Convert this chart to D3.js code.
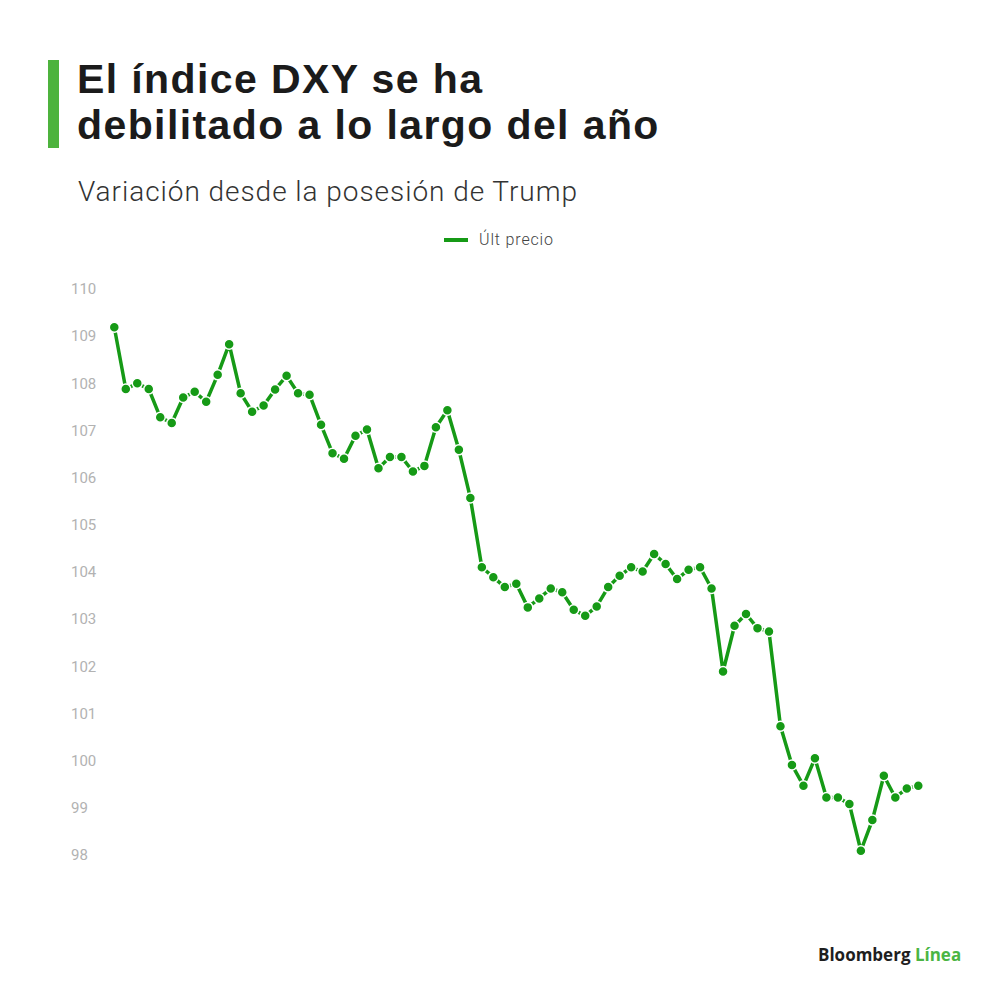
<!DOCTYPE html>
<html>
<head>
<meta charset="utf-8">
<style>
  body { margin: 0; background: #fff; }
  svg { display: block; }
</style>
</head>
<body>
<div id="chart"></div>
<script src="https://cdn.jsdelivr.net/npm/d3@7"></script>
<script>
// Data (DXY, "Últ precio"), one value per point
var values = [
  109.19, 107.88, 108.00, 107.88, 107.28, 107.16, 107.70, 107.82, 107.61, 108.18,
  108.83, 107.79, 107.40, 107.53, 107.87, 108.16, 107.79, 107.76, 107.12, 106.52,
  106.40, 106.89, 107.02, 106.20, 106.44, 106.44, 106.13, 106.25, 107.07, 107.43,
  106.59, 105.57, 104.10, 103.89, 103.68, 103.75, 103.25, 103.44, 103.65, 103.57,
  103.20, 103.07, 103.27, 103.68, 103.92, 104.10, 104.01, 104.38, 104.17, 103.85,
  104.05, 104.10, 103.65, 101.89, 102.86, 103.11, 102.81, 102.74, 100.73, 99.91,
  99.47, 100.05, 99.22, 99.22, 99.08, 98.09, 98.74, 99.68, 99.22, 99.41, 99.47
];
var yTicks = [98, 99, 100, 101, 102, 103, 104, 105, 106, 107, 108, 109, 110];
var titleLines = ["El índice DXY se ha", "debilitado a lo largo del año"];
var subtitle = "Variación desde la posesión de Trump";
var seriesName = "Últ precio";

var width = 1000, height = 1000;
var lineGreen = "#169a16";

var svg = d3.select("#chart").append("svg")
  .attr("width", width).attr("height", height);

// Header: green bar + title (one text, two lines) + subtitle
svg.append("rect")
  .attr("x", 48).attr("y", 60).attr("width", 11).attr("height", 88)
  .attr("fill", "#4db33d");

svg.append("text")
  .attr("y", 93)
  .style("font-family", "'Liberation Sans', Arial, sans-serif")
  .style("font-weight", "bold")
  .style("font-size", "41px")
  .style("letter-spacing", "1.4px")
  .attr("fill", "#1b1b1b")
  .selectAll("tspan")
  .data(titleLines)
  .enter().append("tspan")
    .attr("x", 77)
    .attr("dy", function (d, i) { return i === 0 ? 0 : 46; })
    .text(function (d) { return d; });

svg.append("text")
  .attr("x", 78).attr("y", 201)
  .attr("textLength", 499)
  .attr("lengthAdjust", "spacing")
  .style("font-family", "Roboto, 'Liberation Sans', sans-serif")
  .style("font-weight", 300)
  .style("font-size", "28px")
  .attr("fill", "#333")
  .text(subtitle);

// Legend
svg.append("line")
  .attr("x1", 444).attr("x2", 468).attr("y1", 240).attr("y2", 240)
  .attr("stroke", lineGreen).attr("stroke-width", 4);
svg.append("text")
  .attr("x", 479).attr("y", 245)
  .attr("textLength", 74)
  .attr("lengthAdjust", "spacing")
  .style("font-family", "Roboto, 'Liberation Sans', sans-serif")
  .style("font-weight", 300)
  .style("font-size", "16px")
  .attr("fill", "#444")
  .text(seriesName);

// Scales
var x = d3.scaleLinear().domain([0, values.length - 1]).range([114.3, 918.3]);
var y = d3.scaleLinear().domain([98, 110]).range([855, 289]);

// Y axis: labels only, left aligned
var yAxis = svg.append("g")
  .attr("transform", "translate(71,0)")
  .call(d3.axisLeft(y).tickValues(yTicks).tickSize(0).tickPadding(0).tickFormat(d3.format("d")));
yAxis.select(".domain").remove();
yAxis.selectAll("text")
  .attr("text-anchor", "start")
  .style("font-family", "Roboto, 'Liberation Sans', sans-serif")
  .style("font-size", "15px")
  .attr("fill", "#b2b2b2");

// Line + dots
var line = d3.line()
  .x(function (d, i) { return x(i); })
  .y(function (d) { return y(d); });

svg.append("path")
  .datum(values)
  .attr("d", line)
  .attr("fill", "none")
  .attr("stroke", lineGreen)
  .attr("stroke-width", 3.5)
  .attr("stroke-linejoin", "round");

svg.selectAll("circle.pt")
  .data(values)
  .enter().append("circle")
    .attr("class", "pt")
    .attr("cx", function (d, i) { return x(i); })
    .attr("cy", function (d) { return y(d); })
    .attr("r", 5)
    .attr("fill", lineGreen)
    .attr("stroke", "#fff")
    .attr("stroke-width", 1.5);

// Logo
var logo = svg.append("text")
  .attr("x", 818).attr("y", 961)
  .style("font-family", "'Open Sans', 'Liberation Sans', sans-serif")
  .style("font-size", "17px")
  .style("font-weight", "bold");
logo.append("tspan").attr("fill", "#1e1e1e").text("Bloomberg ");
logo.append("tspan").attr("fill", "#4bb543").text("Línea");
</script>
</body>
</html>
